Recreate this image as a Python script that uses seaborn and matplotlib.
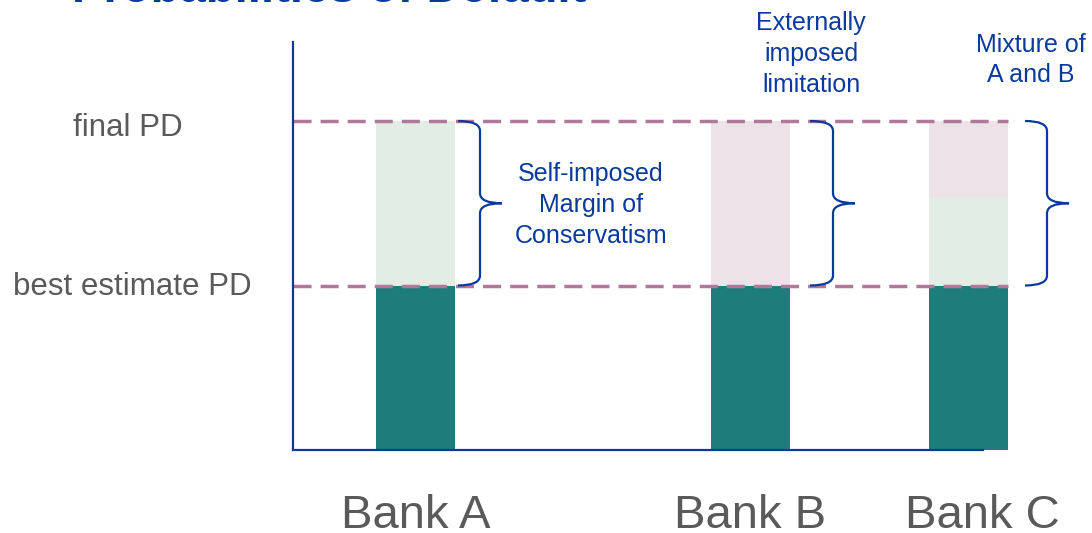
import matplotlib
matplotlib.use("Agg")
import matplotlib.pyplot as plt
from matplotlib.path import Path
from matplotlib.patches import PathPatch
import numpy as np
import pandas as pd
import seaborn as sns

# ---------------- data ----------------
banks = ["Bank A", "Bank B", "Bank C"]
best_estimate_pd = [1.0, 1.0, 1.0]
self_imposed_moc = [1.0, 0.0, 0.53]
external_limitation = [0.0, 1.0, 0.47]
level_labels = ["best estimate PD", "final PD"]
level_values = [1.0, 2.0]
title_text = "Probabilities of Default"
annotation_texts = ["Self-imposed\nMargin of\nConservatism",
                    "Externally\nimposed\nlimitation",
                    "Mixture of\nA and B"]

# ---------------- layout / style ----------------
W, H = 1092, 533
AX_L, AX_R, AX_T, AX_B = 293, 983, 42, 450       # axes box in pixels
PX_PER_UNIT = 164.5                              # vertical pixels per data unit
bar_centers = [415.5, 750.5, 968.5]              # x positions (pixel-like units)
bar_width_px = 79
brace_x = [(458, 480, 502), (810, 833, 855), (1025, 1047, 1069)]
label_x = [415.5, 750.5, 982]
annot_pos = [(591, 243), (811, 92), (1031, 82)]  # center x, last baseline y (px)
annot_spacing = [1.37, 1.37, 1.32]
level_label_pos = [(132.5, 295), (127.5, 136)]

TEAL = "#1d7d7b"
GREEN = "#e2eee5"
PINK = "#ede2e8"
MAUVE = "#b0789a"
BLUE = "#0a3a9e"
GREY = "#5a5a5a"

sns.set_style("white")
plt.rcParams["font.family"] = ["Liberation Sans", "DejaVu Sans"]

fig = plt.figure(figsize=(W / 100, H / 100), dpi=100)
ax = fig.add_axes([AX_L / W, (H - AX_B) / H, (AX_R - AX_L) / W, (AX_B - AX_T) / H])


def fx(px):
    return px / W


def fy(py):
    return 1 - py / H


df = pd.DataFrame({
    "bank": banks,
    "pos": bar_centers,
    "base": best_estimate_pd,
    "self": self_imposed_moc,
    "ext": external_limitation,
})
df["upto_self"] = df["base"] + df["self"]
df["total"] = df["upto_self"] + df["ext"]

spacing = np.min(np.diff(sorted(bar_centers)))
for col, color in [("total", PINK), ("upto_self", GREEN), ("base", TEAL)]:
    sns.barplot(data=df, x="pos", y=col, native_scale=True, orient="x",
                width=bar_width_px / spacing, color=color, saturation=1,
                errorbar=None, edgecolor="none", linewidth=0,
                clip_on=False, zorder=2, ax=ax)

ax.set_xlim(AX_L, AX_R)
ax.set_ylim(0, (AX_B - AX_T) / PX_PER_UNIT)
ax.set_xlabel("")
ax.set_ylabel("")
ax.set_xticks([])
ax.set_yticks([])
for s in ["top", "right"]:
    ax.spines[s].set_visible(False)
for s in ["left", "bottom"]:
    ax.spines[s].set_color(BLUE)
    ax.spines[s].set_linewidth(1.6)
ax.spines["left"].set_zorder(4)

# dashed reference levels
ax.hlines(level_values, AX_L, bar_centers[-1] + bar_width_px / 2,
          colors=MAUVE, linestyles=(0, (5.2, 2.6)), linewidth=2.5,
          clip_on=False, zorder=3)

# braces
r = 10 / PX_PER_UNIT
yb, yt = level_values
ym = (yb + yt) / 2
for (x0, xm, xt) in brace_x:
    verts = [(x0, yt), (xm, yt), (xm, yt - r),
             (xm, ym + r), (xm, ym), (xt, ym),
             (xm, ym), (xm, ym - r),
             (xm, yb + r), (xm, yb), (x0, yb)]
    codes = [Path.MOVETO, Path.CURVE3, Path.CURVE3,
             Path.LINETO, Path.CURVE3, Path.CURVE3,
             Path.CURVE3, Path.CURVE3,
             Path.LINETO, Path.CURVE3, Path.CURVE3]
    ax.add_patch(PathPatch(Path(verts, codes), facecolor="none",
                           edgecolor=BLUE, linewidth=1.6, clip_on=False,
                           zorder=4))

# annotations
for txt, (cx, by), ls in zip(annotation_texts, annot_pos, annot_spacing):
    fig.text(fx(cx), fy(by), txt, ha="center", va="baseline",
             fontsize=18, color=BLUE, multialignment="center",
             linespacing=ls)

# level labels
for txt, (cx, by) in zip(level_labels, level_label_pos):
    fig.text(fx(cx), fy(by), txt, ha="center", va="baseline",
             fontsize=22.5, color=GREY)

# bank labels
for txt, cx in zip(banks, label_x):
    fig.text(fx(cx), fy(528), txt, ha="center", va="baseline",
             fontsize=34, color=GREY)

# clipped title (only its lower edge is visible, as in the reference)
fig.text(fx(72), fy(12), title_text, ha="left", va="bottom",
         fontsize=34, fontweight="bold", color=BLUE)

fig.savefig("out.png", dpi=100)
